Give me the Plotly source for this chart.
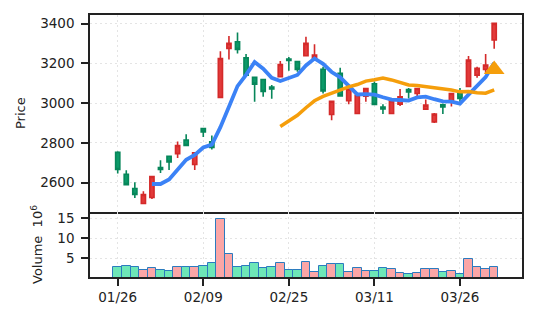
import plotly.graph_objects as go

# trading-day index of each candle (0 = 01/26)
day_idx = list(range(45))
tick_idx = [0, 10, 20, 30, 40]
tick_labels = ["01/26", "02/09", "02/25", "03/11", "03/26"]

open_ = [2752, 2642, 2570, 2495, 2525, 2676, 2733, 2746, 2814, 2691,
         2872, 2805, 3029, 3276, 3309, 3228, 3130, 3119, 3081, 3133,
         3222, 3209, 3239, 3225, 3171, 2943, 3150, 3012, 2948, 3035,
         3098, 2981, 2948, 2995, 3069, 3049, 2970, 2906, 2992, 3012,
         3052, 3084, 3141, 3170, 3318]
high = [2758, 2662, 2602, 2556, 2633, 2713, 2735, 2807, 2844, 2752,
        2875, 2837, 3262, 3338, 3356, 3247, 3132, 3121, 3091, 3212,
        3232, 3211, 3334, 3297, 3183, 3012, 3178, 3073, 3042, 3076,
        3109, 2995, 3014, 3071, 3076, 3076, 3019, 2950, 2998, 3051,
        3076, 3237, 3183, 3247, 3404]
low = [2646, 2588, 2523, 2492, 2518, 2649, 2664, 2724, 2785, 2664,
       2830, 2767, 3027, 3220, 3250, 3140, 3007, 3032, 3022, 3130,
       3163, 3158, 3236, 3217, 3049, 2914, 3035, 2995, 2946, 3007,
       2991, 2946, 2946, 2986, 3024, 3035, 2965, 2900, 2946, 2983,
       3007, 3082, 3128, 3150, 3274]
close = [2666, 2590, 2540, 2540, 2631, 2666, 2704, 2787, 2787, 2750,
         2855, 2777, 3225, 3301, 3271, 3141, 3096, 3059, 3071, 3195,
         3215, 3170, 3301, 3242, 3062, 3010, 3037, 3071, 3040, 3074,
         2993, 2971, 3012, 3032, 3057, 3074, 2990, 2945, 2981, 3049,
         3024, 3217, 3175, 3192, 3402]
volume = [2.7, 2.9, 2.7, 2.1, 2.4, 2.1, 1.8, 2.8, 2.8, 2.7,
          3.1, 3.8, 14.8, 6.1, 2.7, 3.1, 3.8, 2.4, 2.7, 3.8,
          2.1, 2.1, 4.1, 1.5, 3.1, 3.6, 3.6, 1.5, 2.6, 1.8,
          1.8, 2.6, 2.3, 1.3, 1.0, 1.3, 2.3, 2.3, 1.6, 1.8,
          1.0, 4.7, 2.8, 2.3, 2.8]
ma5 = [None, None, None, None, 2593, 2593, 2616, 2666, 2715, 2739,
       2777, 2791, 2879, 2982, 3086, 3143, 3207, 3174, 3128, 3112,
       3127, 3142, 3190, 3225, 3198, 3157, 3130, 3084, 3044, 3046,
       3043, 3030, 3018, 3016, 3013, 3029, 3033, 3020, 3009, 3008,
       2998, 3043, 3089, 3131, 3202]
ma20 = [None] * 19 + [2883, 2910, 2939, 2977, 3012, 3034, 3051, 3068, 3082, 3094,
                      3111, 3118, 3127, 3117, 3103, 3092, 3089, 3084, 3078, 3074,
                      3066, 3057, 3059, 3053, 3050, 3067]
signal = [None] * 44 + [3170]

UP_FILL, UP_LINE = "#e23a3a", "#d42a2a"
DN_FILL, DN_LINE = "#0b9a68", "#07865a"
VOL_UP, VOL_DN = "#fba6a6", "#6ee7b7"
vol_colors = [VOL_UP if c >= o else VOL_DN for o, c in zip(open_, close)]

FONT = "DejaVu Sans"
SPINE = "#222222"
GRID = "#e4e4e4"

fig = go.Figure()
fig.add_trace(go.Candlestick(
    x=day_idx, open=open_, high=high, low=low, close=close,
    increasing=dict(fillcolor=UP_FILL, line=dict(color=UP_LINE, width=1.6)),
    decreasing=dict(fillcolor=DN_FILL, line=dict(color=DN_LINE, width=1.6)),
    whiskerwidth=0, xaxis="x", yaxis="y", showlegend=False, hoverinfo="skip"))
fig.add_trace(go.Scatter(x=day_idx, y=ma5, mode="lines",
                         line=dict(color="#3b82f6", width=3.8),
                         xaxis="x", yaxis="y", showlegend=False))
fig.add_trace(go.Scatter(x=day_idx, y=ma20, mode="lines",
                         line=dict(color="#f59e0b", width=3.5),
                         xaxis="x", yaxis="y", showlegend=False))
fig.add_trace(go.Scatter(x=day_idx, y=signal, mode="markers",
                         marker=dict(symbol="triangle-up", size=18, color="#f59e0b"),
                         xaxis="x", yaxis="y", showlegend=False))
fig.add_trace(go.Bar(x=day_idx, y=volume, width=1.0,
                     marker=dict(color=vol_colors, line=dict(color="#2b7bbf", width=1)),
                     xaxis="x2", yaxis="y2", showlegend=False))

vol_frac = 65.0 / 262.0
axis_common = dict(showline=True, linecolor=SPINE, linewidth=1.5,
                   showgrid=True, gridcolor=GRID, griddash="2px,3px", gridwidth=1.3,
                   zeroline=False, tickfont=dict(family=FONT, size=13.5, color=SPINE))
xr = [-3.24, 47.25]
fig.update_layout(
    width=537, height=322,
    margin=dict(l=90, r=15, t=15, b=45),
    paper_bgcolor="white", plot_bgcolor="white",
    font=dict(family=FONT, color=SPINE),
    bargap=0,
    xaxis=dict(axis_common, mirror=True, domain=[0, 1], anchor="y", range=xr,
               tickmode="array", tickvals=tick_idx, ticktext=tick_labels,
               showticklabels=False, ticks="", rangeslider=dict(visible=False)),
    yaxis=dict(axis_common, mirror=True, domain=[vol_frac, 1], anchor="x", range=[2452, 3444],
               tickmode="array", tickvals=[2600, 2800, 3000, 3200, 3400],
               ticks="outside", ticklen=7, tickwidth=1.5, tickcolor=SPINE,
               ticklabelstandoff=4),
    xaxis2=dict(axis_common, mirror=False, domain=[0, 1], anchor="y2", range=xr, matches="x",
                tickmode="array", tickvals=tick_idx, ticktext=tick_labels,
                ticks="outside", ticklen=7, tickwidth=1.5, tickcolor=SPINE),
    yaxis2=dict(axis_common, mirror=True, domain=[0, vol_frac], anchor="x2", range=[0.25, 16.5],
                tickmode="array", tickvals=[5, 10, 15],
                ticks="outside", ticklen=7, tickwidth=1.5, tickcolor=SPINE,
                ticklabelstandoff=4),
    annotations=[
        dict(text="Price", textangle=-90, showarrow=False,
             xref="paper", yref="paper", x=(21 - 90) / 432, y=(277 - 113) / 262,
             xanchor="center", yanchor="middle",
             font=dict(family=FONT, size=13, color=SPINE)),
        dict(text="Volume  10<sup>6</sup>", textangle=-90, showarrow=False,
             xref="paper", yref="paper", x=(37 - 90) / 432, y=(277 - 245) / 262,
             xanchor="center", yanchor="middle",
             font=dict(family=FONT, size=13, color=SPINE)),
    ],
)

fig.write_html("out.html")
